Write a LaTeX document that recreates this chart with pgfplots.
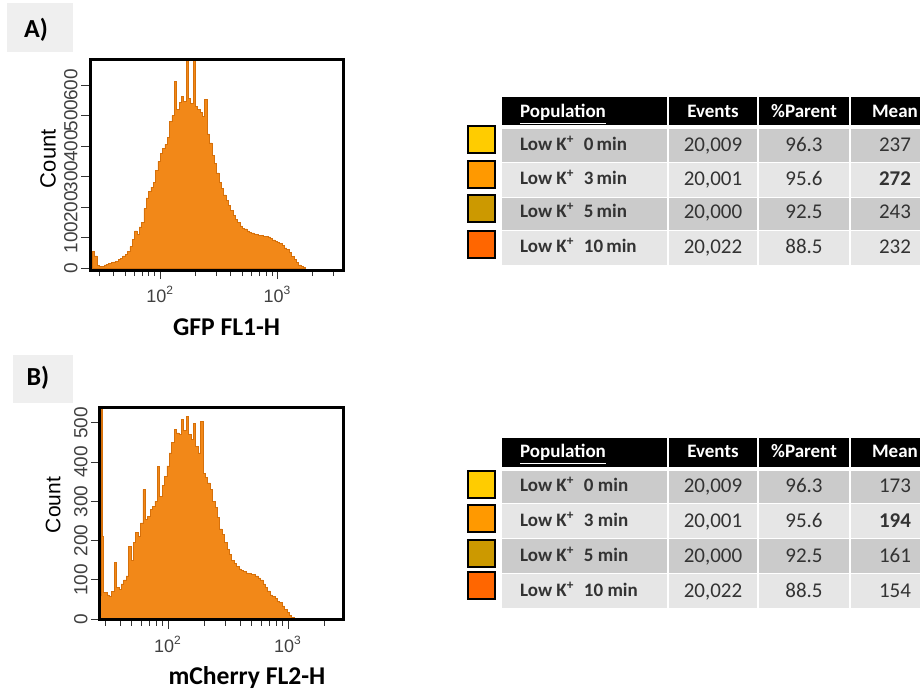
\documentclass[border=0pt]{standalone}
\usepackage{fontspec}
\setmainfont{Carlito}
\newfontfamily\arialf{Liberation Sans}
\usepackage{pgfplots}
\pgfplotsset{compat=1.18}
\usepackage{pgfplotstable}

\definecolor{histfill}{RGB}{242,136,24}
\definecolor{histedge}{RGB}{214,112,10}
\definecolor{popA}{HTML}{FFCC00}
\definecolor{popB}{HTML}{FF9900}
\definecolor{popC}{HTML}{CC9900}
\definecolor{popD}{HTML}{FF6600}
\definecolor{rowdark}{HTML}{CBCBCB}
\definecolor{rowlight}{HTML}{E6E6E6}
\definecolor{panelbg}{HTML}{EFEFEF}

% GFP FL1-H histogram, x in log10 units
\pgfplotstableread{
x y
1.40 0
1.42 55
1.44 40
1.46 8
1.48 6
1.50 6
1.52 10
1.54 11
1.56 14
1.58 18
1.60 20
1.62 22
1.64 28
1.66 32
1.68 40
1.70 45
1.72 55
1.74 70
1.76 95
1.78 122
1.80 110
1.82 135
1.84 150
1.86 195
1.88 230
1.90 250
1.92 265
1.94 282
1.96 320
1.98 350
2.00 377
2.02 392
2.04 405
2.06 428
2.08 480
2.10 500
2.12 612
2.14 520
2.16 542
2.18 562
2.20 545
2.22 683
2.24 556
2.26 540
2.28 683
2.30 530
2.32 520
2.34 510
2.36 498
2.38 552
2.40 440
2.42 410
2.44 370
2.46 342
2.48 312
2.50 282
2.52 262
2.54 240
2.56 222
2.58 205
2.60 190
2.62 172
2.64 160
2.66 150
2.68 138
2.70 130
2.72 128
2.74 122
2.76 118
2.78 115
2.80 112
2.82 110
2.84 108
2.86 106
2.88 104
2.90 103
2.92 102
2.94 98
2.96 92
2.98 88
3.00 84
3.02 80
3.04 74
3.06 66
3.08 60
3.10 50
3.12 38
3.14 28
3.16 18
3.18 10
3.20 5
3.22 2
3.24 0
}\histA

% mCherry FL2-H histogram, x in log10 units
\pgfplotstableread{
x y
1.433 60
1.443 545
1.452 211
1.462 68
1.49 62
1.51 59
1.53 70
1.55 144
1.57 80
1.59 76
1.61 90
1.63 100
1.65 110
1.67 186
1.69 150
1.71 195
1.73 220
1.75 210
1.77 245
1.79 330
1.81 255
1.83 262
1.85 280
1.87 288
1.89 300
1.91 389
1.93 313
1.95 340
1.97 364
1.99 390
2.01 423
2.03 450
2.05 482
2.07 474
2.09 470
2.11 508
2.13 480
2.15 516
2.17 470
2.19 457
2.21 499
2.23 440
2.25 423
2.27 503
2.29 372
2.31 360
2.33 347
2.35 330
2.37 300
2.39 285
2.41 260
2.43 230
2.45 215
2.47 195
2.49 178
2.51 165
2.53 150
2.55 143
2.57 135
2.59 128
2.61 125
2.63 121
2.65 118
2.67 116
2.69 114
2.71 114
2.73 110
2.75 105
2.77 100
2.79 90
2.81 80
2.83 72
2.85 62
2.87 58
2.89 52
2.91 46
2.93 42
2.95 34
2.97 24
2.99 17
3.01 10
3.03 4
3.05 1
3.07 0
}\histB

\pgfplotsset{
  histframe/.style={
    scale only axis,
    axis on top,
    axis line style={line width=1.5pt},
    tick align=outside,
    xtick pos=bottom, ytick pos=left,
    major tick length=4.5pt, minor tick length=3pt,
    tick style={black!80, line width=0.5pt},
    xtick={2,3},
    xticklabels={10\textsuperscript{2},10\textsuperscript{3}},
    minor xtick={1.4771,1.6021,1.6990,1.7782,1.8451,1.9031,1.9542,
      2.3010,2.4771,2.6021,2.6990,2.7782,2.8451,2.9031,2.9542,3.3010,3.4771},
    tick label style={font=\arialf\fontsize{9.5}{10}\selectfont, text=black!75},
    xticklabel style={font=\arialf\fontsize{9}{10}\selectfont},
    yticklabel style={rotate=90, anchor=south, inner sep=1.5pt},
    x label style={anchor=center, font=\bfseries\fontsize{12.8}{14}\selectfont},
    y label style={anchor=center, rotate=0},
  },
  histplot/.style={const plot mark left, fill=histfill, draw=histedge, line width=0.3pt},
}

\begin{document}
\begin{tikzpicture}
\begin{scope}[x=0.5pt, y=-0.5pt]
  \useasboundingbox (0,0) rectangle (920,689);
  \tikzset{
    lab/.style={anchor=mid west, font=\bfseries\fontsize{9.5}{11}\selectfont, text=black!80},
    num/.style={anchor=mid, font=\fontsize{10.5}{12}\selectfont, text=black!80},
    hd/.style={anchor=mid, font=\bfseries\fontsize{9.5}{11}\selectfont, text=white},
    sw/.style={draw=black, line width=1pt},
  }
  % panel labels
  \fill[panelbg] (7,3) rectangle (73,52);
  \node[font=\bfseries\fontsize{13}{15}\selectfont] at (36,30) {A)};
  \fill[panelbg] (13,355) rectangle (73,403);
  \node[font=\bfseries\fontsize{13}{15}\selectfont] at (38,378) {B)};

  % ---- table A ----
  \fill[black] (502,97) rectangle (920,125);
  \fill[rowdark] (502,129) rectangle (920,162);
  \fill[rowlight] (502,163) rectangle (920,197);
  \fill[rowdark] (502,198) rectangle (920,230);
  \fill[rowlight] (502,231) rectangle (920,265);
  \foreach \cx in {668,758,850} \draw[white, line width=1pt] (\cx,97) -- (\cx,265);
  \node[hd, anchor=mid west] at (513,113) {\underline{Population}};
  \node[hd] at (713,113) {Events};
  \node[hd] at (804,113) {\%Parent};
  \node[hd] at (895,113) {Mean};
  \node[lab] at (513,146) {Low K\textsuperscript{+}\enspace 0\,min};
  \node[lab] at (513,180) {Low K\textsuperscript{+}\enspace 3\,min};
  \node[lab] at (513,213) {Low K\textsuperscript{+}\enspace 5\,min};
  \node[lab] at (513,248) {Low K\textsuperscript{+}\enspace 10\,min};
  \node[num] at (713,147) {20,009}; \node[num] at (804,147) {96.3}; \node[num] at (895,147) {237};
  \node[num] at (713,181) {20,001}; \node[num] at (804,181) {95.6}; \node[num] at (895,181) {\bfseries 272};
  \node[num] at (713,214) {20,000}; \node[num] at (804,214) {92.5}; \node[num] at (895,214) {243};
  \node[num] at (713,249) {20,022}; \node[num] at (804,249) {88.5}; \node[num] at (895,249) {232};
  \filldraw[sw, fill=popA] (468,126) rectangle (495,153);
  \filldraw[sw, fill=popB] (468,161) rectangle (495,188);
  \filldraw[sw, fill=popC] (468,195) rectangle (495,222);
  \filldraw[sw, fill=popD] (468,231) rectangle (495,258);

  % ---- table B ----
  \fill[black] (502,438) rectangle (920,467);
  \fill[rowdark] (502,471) rectangle (920,503);
  \fill[rowlight] (502,504) rectangle (920,538);
  \fill[rowdark] (502,539) rectangle (920,573);
  \fill[rowlight] (502,574) rectangle (920,608);
  \foreach \cx in {668,758,850} \draw[white, line width=1pt] (\cx,438) -- (\cx,608);
  \node[hd, anchor=mid west] at (513,453) {\underline{Population}};
  \node[hd] at (713,453) {Events};
  \node[hd] at (804,453) {\%Parent};
  \node[hd] at (895,453) {Mean};
  \node[lab] at (513,487) {Low K\textsuperscript{+}\enspace 0 min};
  \node[lab] at (513,522) {Low K\textsuperscript{+}\enspace 3 min};
  \node[lab] at (513,557) {Low K\textsuperscript{+}\enspace 5 min};
  \node[lab] at (513,592) {Low K\textsuperscript{+}\enspace 10 min};
  \node[num] at (713,488) {20,009}; \node[num] at (804,488) {96.3}; \node[num] at (895,488) {173};
  \node[num] at (713,523) {20,001}; \node[num] at (804,523) {95.6}; \node[num] at (895,523) {\bfseries 194};
  \node[num] at (713,558) {20,000}; \node[num] at (804,558) {92.5}; \node[num] at (895,558) {161};
  \node[num] at (713,593) {20,022}; \node[num] at (804,593) {88.5}; \node[num] at (895,593) {154};
  \filldraw[sw, fill=popA] (468,471) rectangle (495,498);
  \filldraw[sw, fill=popB] (468,505) rectangle (495,532);
  \filldraw[sw, fill=popC] (468,540) rectangle (495,567);
  \filldraw[sw, fill=popD] (468,572) rectangle (495,599);
\end{scope}

\begin{axis}[histframe,
    at={(45pt,-30pt)}, anchor=north west,
    width=126.5pt, height=105pt,
    xmin=1.40, xmax=3.56, ymin=-6.5, ymax=682,
    ytick={0,100,200,300,400,500,600},
    yticklabels={0,100,200,300,400,500,600},
    xlabel={GFP FL1-H},
    x label style={at={(axis description cs:0.54,-0.27)}},
    ylabel={Count},
    y label style={at={(axis description cs:-0.166,0.53)}, font=\arialf\fontsize{11}{12}\selectfont},
  ]
  \addplot[histplot] table {\histA} \closedcycle;
\end{axis}

\begin{axis}[histframe,
    at={(50pt,-203.5pt)}, anchor=north west,
    width=121.5pt, height=106.5pt,
    xmin=1.433, xmax=3.458, ymin=-2, ymax=540,
    ytick={0,100,200,300,400,500},
    yticklabels={0,100,200,300,400,500},
    xlabel={mCherry FL2-H},
    x label style={at={(axis description cs:0.605,-0.27)}},
    ylabel={Count},
    y label style={at={(axis description cs:-0.193,0.54)}, font=\arialf\fontsize{10.5}{11}\selectfont},
  ]
  \addplot[histplot] table {\histB} \closedcycle;
\end{axis}
\end{tikzpicture}
\end{document}
